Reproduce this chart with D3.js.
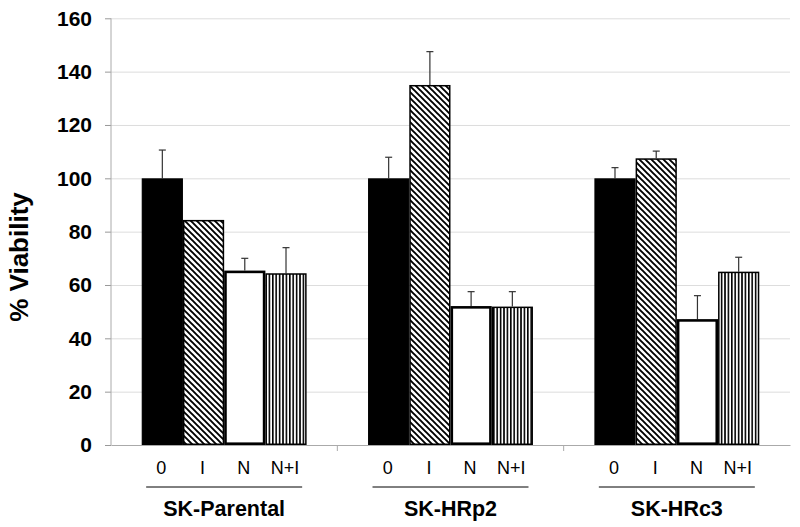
<!DOCTYPE html>
<html><head><meta charset="utf-8">
<script src="https://cdn.jsdelivr.net/npm/d3@7"></script>
<style>body{margin:0;background:#fff}svg{display:block}</style>
</head><body><svg id="c" width="800" height="527"></svg>
<script>
const groups = ["SK-Parental", "SK-HRp2", "SK-HRc3"];
const treatments = ["0", "I", "N", "N+I"];
const yTicks = [0, 20, 40, 60, 80, 100, 120, 140, 160];
const vals0 = [100, 100, 100];
const valsI = [84.4, 135, 107.5];
const valsN = [65.4, 52.1, 47.2];
const valsNI = [64.4, 51.9, 65];
const err0 = [10.6, 7.9, 4];
const errI = [0, 12.5, 2.7];
const errN = [4.6, 5.4, 8.8];
const errNI = [9.6, 5.6, 5.4];

(function () {
const series = [vals0, valsI, valsN, valsNI];
const errs = [err0, errI, errN, errNI];
const fills = ["#000", "url(#diag)", "#fff", "url(#vert)"];
const strokeW = [1.2, 1.5, 2.6, 1.5];

const svg = d3.select("#c");
const defs = svg.append("defs");
const pd = defs.append("pattern").attr("id", "diag").attr("patternUnits", "userSpaceOnUse")
  .attr("width", 6).attr("height", 6);
pd.append("rect").attr("width", 6).attr("height", 6).attr("fill", "#fff");
pd.append("path").attr("d", "M-1,-1L7,7M-1,5L1,7M5,-1L7,1").attr("stroke", "#000").attr("stroke-width", 1.9);
const pv = defs.append("pattern").attr("id", "vert").attr("patternUnits", "userSpaceOnUse")
  .attr("width", 3.4).attr("height", 10);
pv.append("rect").attr("width", 3.4).attr("height", 10).attr("fill", "#fff");
pv.append("rect").attr("x", 0).attr("width", 1.6).attr("height", 10).attr("fill", "#000");

const pL = 111, pR = 790, pT = 18.3, pB = 445;
const y = d3.scaleLinear().domain([0, 160]).range([pB, pT]);
const x0 = d3.scaleBand().domain(groups).range([pL, pR]).padding(0);
const x1 = d3.scaleBand().domain(treatments).range([0, x0.bandwidth()]).paddingInner(0).paddingOuter(0.745);

// grid + y axis
const ya = svg.append("g").attr("transform", `translate(${pL},0)`)
  .call(d3.axisLeft(y).tickValues(yTicks).tickSize(-(pR - pL)).tickSizeOuter(0).tickPadding(19));
ya.select(".domain").remove();
ya.selectAll(".tick line").attr("stroke", "#ddd").attr("stroke-width", 1);
ya.selectAll(".tick").append("line").attr("x1", -6).attr("x2", 0).attr("stroke", "#999");
ya.selectAll(".tick text").attr("font-family", "Liberation Sans, Arial, sans-serif")
  .attr("font-weight", "bold").attr("font-size", 21).attr("fill", "#000");
svg.append("line").attr("x1", pL).attr("x2", pL).attr("y1", pT).attr("y2", pB).attr("stroke", "#aaa");

// x axis
const xa = svg.append("g").attr("transform", `translate(0,${pB})`)
  .call(d3.axisBottom(x0).tickValues([]).tickSizeOuter(0));
xa.select(".domain").attr("stroke", "#aaa");
groups.slice(1).forEach(g => {
  svg.append("line").attr("x1", x0(g)).attr("x2", x0(g)).attr("y1", pB).attr("y2", pB + 6).attr("stroke", "#aaa");
});

// bars
groups.forEach((g, gi) => {
  treatments.forEach((t, ti) => {
    const v = series[ti][gi], e = errs[ti][gi];
    const bx = x0(g) + x1(t), bw = x1.bandwidth();
    const cx = bx + bw / 2;
    if (e > 0) {
      svg.append("line").attr("x1", cx).attr("x2", cx).attr("y1", y(v)).attr("y2", y(v + e)).attr("stroke", "#333").attr("stroke-width", 1.2);
      svg.append("line").attr("x1", cx - 3.5).attr("x2", cx + 3.5).attr("y1", y(v + e)).attr("y2", y(v + e)).attr("stroke", "#333").attr("stroke-width", 1.2);
    }
    const sw = strokeW[ti];
    svg.append("rect").attr("x", bx + sw / 2).attr("y", y(v) + sw / 2)
      .attr("width", bw - sw).attr("height", y(0) - y(v) - sw)
      .attr("fill", fills[ti]).attr("stroke", "#000").attr("stroke-width", sw);
    svg.append("text").attr("x", cx - 1).attr("y", 474).attr("text-anchor", "middle")
      .attr("font-family", "Liberation Sans, Arial, sans-serif")
      .attr("font-size", 18).attr("fill", "#000").text(t);
  });
  const c = x0(g) + x0.bandwidth() / 2;
  svg.append("line").attr("x1", c - 78).attr("x2", c + 78).attr("y1", 487).attr("y2", 487).attr("stroke", "#000").attr("stroke-width", 1);
  svg.append("text").attr("x", c).attr("y", 516).attr("text-anchor", "middle")
    .attr("font-family", "Liberation Sans, Arial, sans-serif").attr("font-weight", "bold")
    .attr("font-size", 21.5).attr("fill", "#000").text(g);
});

svg.append("text").attr("transform", "translate(28,257) rotate(-90)").attr("text-anchor", "middle")
  .attr("font-family", "Liberation Sans, Arial, sans-serif").attr("font-weight", "bold")
  .attr("font-size", 26).attr("fill", "#000").text("% Viability");
})();
</script></body></html>
